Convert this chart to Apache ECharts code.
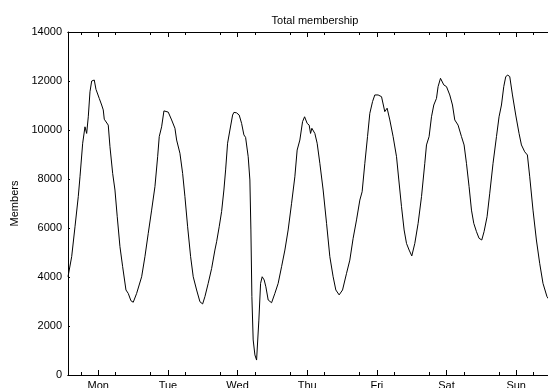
<!DOCTYPE html>
<html>
<head>
<meta charset="utf-8">
<script src="https://cdn.jsdelivr.net/npm/echarts@6/dist/echarts.min.js"></script>
<style>
  html, body { margin: 0; padding: 0; background: #fff; }
  #chart { width: 548px; height: 388px; }
</style>
</head>
<body>
<div id="chart"></div>
<script>
  // hours since Monday 00:00
  var hours = [
    1.57, 2.84, 3.98, 5.11, 5.70, 6.63, 7.42, 8.00, 8.56, 9.14, 9.73, 10.28, 10.62, 11.21, 11.66,
    12.34, 13.17, 13.72, 14.07, 14.65, 15.44, 16.03, 16.96, 17.75, 18.54, 19.47, 20.40, 21.54,
    22.33, 23.26, 24.05, 25.22, 26.95, 28.08, 29.22, 30.39, 31.53, 32.46, 33.01, 33.83, 34.63,
    35.31, 36.11, 37.28, 38.42, 39.00, 40.14, 41.07, 41.86, 42.79, 43.82, 44.72, 45.89, 47.03,
    47.96, 48.75, 49.88, 51.06, 52.19, 52.78, 53.67, 54.50, 55.29, 55.88, 56.56, 57.36, 58.29,
    58.74, 59.66, 60.56, 61.39, 62.18, 62.76, 63.66, 64.24, 64.59, 64.93, 65.38, 65.97, 66.55,
    67.00, 67.34, 67.93, 68.48, 69.17, 69.75, 70.55, 71.72, 72.85, 73.99, 75.16, 76.30, 77.43,
    78.61, 79.74, 80.53, 81.46, 82.39, 83.09, 83.98, 84.67, 85.15, 85.60, 86.63, 87.42, 88.35,
    89.49, 90.66, 91.79, 92.93, 93.86, 95.00, 96.17, 97.55, 98.68, 99.82, 100.99, 102.13,
    102.92, 103.85, 104.78, 105.57, 106.51, 107.29, 107.88, 108.43, 109.01, 109.60, 110.73,
    111.53, 112.46, 113.60, 114.77, 115.56, 116.49, 117.39, 118.21, 119.11, 120.03, 121.07,
    122.21, 123.38, 124.51, 125.10, 125.99, 126.82, 127.61, 128.54, 129.09, 129.92, 130.47,
    131.06, 131.99, 133.12, 134.05, 134.84, 135.98, 137.15, 138.05, 138.87, 139.77, 140.60,
    141.39, 142.32, 143.21, 144.14, 144.93, 145.97, 146.90, 148.03, 149.21, 150.10, 150.93,
    151.72, 152.41, 153.10, 153.79, 154.72, 155.85, 156.99, 157.81, 158.94, 159.87, 160.67,
    161.80, 162.97, 164.10, 165.24, 166.61, 167.50
  ];
  var members = [
    4010, 4830, 6050, 7280, 8090, 9460, 10130, 9860, 10540, 11560, 12000, 11960, 12040, 11660, 11700,
    11290, 11020, 10820, 10440, 10480, 10200, 9320, 8230, 7550, 6460, 5240, 4420, 3470,
    3330, 3030, 2970, 3330, 4010, 4830, 5780, 6730, 7690, 8910, 9730, 10130, 10780,
    10730, 10730, 10410, 10070, 9590, 9050, 8230, 7280, 6050, 4830, 4010, 3470, 2990,
    2900, 3200, 3740, 4350, 5100, 5440, 6050, 6670, 7550, 8370, 9460, 10000, 10610,
    10720, 10700, 10610, 10270, 9800, 9700, 8910, 7960, 5920, 3200, 1430, 820, 610,
    540, 2240, 3740, 4010, 3880, 3600, 3060, 2950, 3330, 3740, 4420, 5100, 5920,
    7010, 8090, 9180, 9590, 10340, 10540, 10270, 10200, 9860, 10070, 9860, 9460, 8640,
    7550, 6190, 4830, 4010, 3470, 3270, 3470, 4150, 4690, 5580, 6330, 7140,
    7480, 8640, 9730, 10680, 11160, 11430, 11500, 11430, 11500, 11360, 10750,
    10890, 10410, 9730, 8910, 7960, 6870, 5920, 5370, 5100, 4860, 5370,
    6190, 7280, 8640, 9390, 9730, 10540, 11020, 11290, 11770, 12110, 12150,
    11840, 11770, 11430, 11020, 10410, 10200, 9730, 9390, 8640, 7690, 6730,
    6190, 5850, 5580, 5510, 5850, 6460, 7420, 8640, 9730, 10540, 11020,
    11770, 12180, 12240, 12180, 11430, 10610, 9860, 9390, 9110, 8980, 8090,
    6730, 5510, 4560, 3740, 3200, 3050
  ];
  var dayLabels = ['Mon', 'Tue', 'Wed', 'Thu', 'Fri', 'Sat', 'Sun'];
  var dayTicks = [12, 36, 60, 84, 108, 132, 156];
  var quarterTicks = [6, 18, 30, 42, 54, 66, 78, 90, 102, 114, 126, 138, 150, 162];

  var xMin = 1.57, xMax = 168;
  var fontFamily = "'Liberation Sans', Arial, sans-serif";

  // one x axis per tick set / side, all on the same scale
  function makeX(position, ticks, len, withLabels) {
    return {
      type: 'value',
      position: position,
      min: xMin,
      max: xMax,
      splitLine: { show: false },
      axisLine: { show: true, onZero: false, lineStyle: { color: '#000', width: 1 } },
      axisTick: { show: true, inside: true, length: len, customValues: ticks, lineStyle: { color: '#000' } },
      axisLabel: {
        show: withLabels,
        customValues: withLabels ? dayTicks : undefined,
        margin: 5,
        color: '#000',
        fontSize: 11,
        fontFamily: fontFamily,
        formatter: function (v) { return dayLabels[Math.round((v - 12) / 24)]; }
      }
    };
  }

  var chart = echarts.init(document.getElementById('chart'));
  chart.setOption({
    animation: false,
    backgroundColor: '#fff',
    title: {
      text: 'Total membership',
      left: 310,
      textAlign: 'center',
      top: 10,
      textStyle: { fontSize: 11, fontWeight: 'normal', color: '#000', fontFamily: fontFamily }
    },
    grid: { left: 68, right: -3, top: 32, bottom: 13, containLabel: false, outerBoundsMode: 'none' },
    xAxis: [
      makeX('bottom', quarterTicks, 3, false),
      makeX('bottom', dayTicks, 5, true),
      makeX('top', quarterTicks, 3, false),
      makeX('top', dayTicks, 5, false)
    ],
    yAxis: {
      type: 'value',
      min: 0,
      max: 14000,
      interval: 2000,
      name: 'Members',
      nameLocation: 'middle',
      nameGap: 48,
      nameRotate: 90,
      nameTextStyle: { fontSize: 11, color: '#000', fontFamily: fontFamily },
      splitLine: { show: false },
      axisLine: { show: true, lineStyle: { color: '#000', width: 1 } },
      axisTick: { show: true, inside: true, length: 2, lineStyle: { color: '#000' } },
      axisLabel: {
        margin: 6, fontSize: 11, color: '#000', fontFamily: fontFamily,
        formatter: function (v) { return String(v); }
      }
    },
    series: [{
      type: 'line',
      xAxisIndex: 0,
      data: hours.map(function (h, i) { return [h, members[i]]; }),
      showSymbol: false,
      lineStyle: { color: '#000', width: 1 },
      silent: true
    }]
  });
</script>
</body>
</html>
